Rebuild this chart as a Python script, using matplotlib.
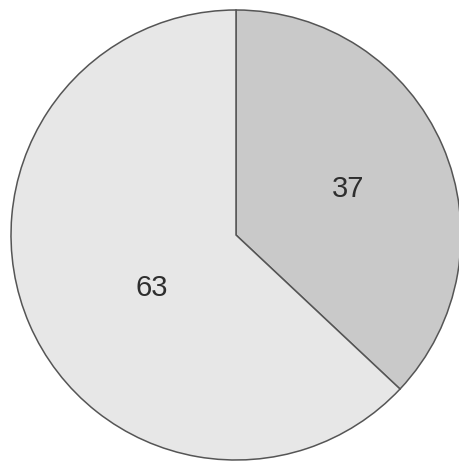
import numpy as np
import matplotlib
matplotlib.use('Agg')
import matplotlib.pyplot as plt

# slice values, drawn clockwise from 12 o'clock
labels = ['37', '63']
values = [37, 63]
colors = ['#c9c9c9', '#e7e7e7']

fig = plt.figure(figsize=(4.59, 4.62), dpi=100)
ax = fig.add_axes([11/459, 2/462, 450/459, 450/462])

wedges, texts = ax.pie(values, colors=colors, startangle=90, counterclock=False,
                       radius=1.0,
                       wedgeprops=dict(edgecolor='#555555', linewidth=1.1))

# label spots (fraction of radius) and small angle tweaks to match the original
spots = [(0.54, -1.2), (0.44, 8.7)]
for w, lab, (r, da) in zip(wedges, labels, spots):
    ang = np.deg2rad((w.theta1 + w.theta2) / 2 + da)
    ax.text(r * np.cos(ang), r * np.sin(ang), lab, ha='center', va='center',
            fontsize=21, color='#2e2e2e',
            family=['Liberation Sans', 'DejaVu Sans'])

ax.set_xlim(-1, 1)
ax.set_ylim(-1, 1)
ax.set_aspect('equal')
ax.axis('off')

fig.savefig('out.png', dpi=100, facecolor='white')
